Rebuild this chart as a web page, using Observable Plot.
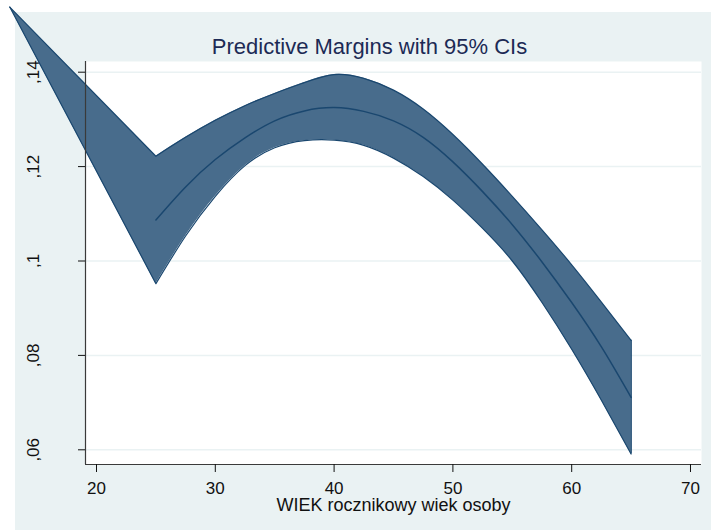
<!DOCTYPE html>
<html><head><meta charset="utf-8">
<script src="https://cdn.jsdelivr.net/npm/d3@7"></script>
<script src="https://cdn.jsdelivr.net/npm/@observablehq/plot@0.6"></script>
<style>
html,body{margin:0;padding:0;background:#fff;}
#wrap{position:relative;width:711px;height:530px;overflow:hidden;}
#bg{position:absolute;left:15px;top:12px;right:0;bottom:0;background:#eaf2f3;}
#chart{position:absolute;left:0;top:0;}
</style></head><body>
<div id="wrap"><div id="bg"></div><div id="chart"></div></div>
<script>
// Data
const ages    = [25, 27.5, 30, 32.5, 35, 37.5, 40, 42.5, 45, 47.5, 50, 52.5, 55, 57.5, 60, 62.5, 65];
const margin  = [0.1087,0.1157,0.1215,0.1261,0.1297,0.1318,0.1325,0.1317,0.1297,0.1262,0.1210,0.1147,0.1077,0.0998,0.0912,0.0818,0.0711];
const upperCI = [0.1222,0.1262,0.1298,0.1329,0.1355,0.1378,0.1395,0.1387,0.1362,0.1322,0.1268,0.1205,0.1137,0.1066,0.0992,0.0913,0.0832];
const lowerCI = [0.0952,0.1053,0.1137,0.1202,0.1240,0.1255,0.1256,0.1245,0.1218,0.1179,0.1129,0.1069,0.1000,0.0912,0.0813,0.0705,0.0591];
// straight extension of the band beyond the plot region (top-left tip)
const tipAge = 12.7;
const tipValue = 0.1538;

const xTicks = [20, 30, 40, 50, 60, 70];
const yTicks = [0.06, 0.08, 0.10, 0.12, 0.14];
const yTickLabels = [",06", ",08", ",1", ",12", ",14"];
const titleText = "Predictive Margins with 95% CIs";
const xLabel = "WIEK rocznikowy wiek osoby";
const xDomain = [19.074, 70.926];
const yDomain = [0.056886, 0.142267];

const rows = ages.map((a, i) => ({age: a, mid: margin[i], hi: upperCI[i], lo: lowerCI[i]}));
const bandRows = [{age: tipAge, hi: tipValue, lo: tipValue}, ...rows];

// curve: straight first segment (the extension), natural spline through the rest
function kinkNatural(context) {
  let line = NaN, pts = [];
  const wrap = {
    moveTo: (x, y) => context.lineTo(x, y),
    lineTo: (x, y) => context.lineTo(x, y),
    bezierCurveTo: (a, b, c, d, e, f) => context.bezierCurveTo(a, b, c, d, e, f),
    closePath: () => {}
  };
  function drawNatural(p) {
    const c = d3.curveNatural(wrap);
    c.lineStart();
    for (const [x, y] of p) c.point(x, y);
    c.lineEnd();
  }
  return {
    areaStart() { line = 0; },
    areaEnd() { line = NaN; },
    lineStart() { pts = []; },
    point(x, y) { pts.push([+x, +y]); },
    lineEnd() {
      const n = pts.length;
      if (n) {
        line ? context.lineTo(pts[0][0], pts[0][1]) : context.moveTo(pts[0][0], pts[0][1]);
        if (n > 1) {
          if (pts[0][0] <= pts[n - 1][0]) {
            context.lineTo(pts[1][0], pts[1][1]);
            drawNatural(pts.slice(1));
          } else {
            drawNatural(pts.slice(0, n - 1));
            context.lineTo(pts[n - 1][0], pts[n - 1][1]);
          }
        }
      }
      if (line) context.closePath();
      line = 1 - line;
    }
  };
}

const bandFill = "#486c8c";
const navy = "#1a476f";
const font = "'Liberation Sans', Arial, Helvetica, sans-serif";

const chart = Plot.plot({
  width: 711, height: 530,
  marginLeft: 85, marginRight: 10, marginTop: 61, marginBottom: 66,
  style: {background: "transparent", overflow: "visible", fontFamily: font, fontSize: "17px", color: "#111"},
  x: {domain: xDomain},
  y: {domain: yDomain},
  marks: [
    Plot.frame({fill: "white", stroke: null}),
    Plot.ruleY(yTicks, {stroke: "#eaf2f3", strokeWidth: 1.5}),
    Plot.areaY(bandRows, {x: "age", y1: "lo", y2: "hi", fill: bandFill, curve: kinkNatural}),
    Plot.line(bandRows, {x: "age", y: "hi", stroke: navy, strokeWidth: 1.2, curve: kinkNatural}),
    Plot.line(bandRows, {x: "age", y: "lo", stroke: navy, strokeWidth: 1.2, curve: kinkNatural}),
    Plot.ruleX(rows.slice(-1), {x: "age", y1: "lo", y2: "hi", stroke: navy, strokeWidth: 1.5}),
    Plot.line(rows, {x: "age", y: "mid", stroke: navy, strokeWidth: 1.5, curve: "natural"}),
    Plot.ruleX([xDomain[0]], {stroke: "#3a3a3a", strokeWidth: 1.2}),
    Plot.ruleY([yDomain[0]], {stroke: "#3a3a3a", strokeWidth: 1.2}),
    Plot.axisY(yTicks, {tickSize: 7, tickRotate: -90, tickPadding: 40, tickFormat: d => yTickLabels[yTicks.indexOf(d)], label: null}),
    Plot.axisX(xTicks, {tickSize: 8, tickPadding: 9, label: null}),
    Plot.text([titleText], {text: d => d, frameAnchor: "top", dx: -24, dy: -8, lineAnchor: "bottom", fontSize: 22, fill: "#1c2a55"}),
    Plot.text([xLabel], {text: d => d, frameAnchor: "bottom", dy: 46, lineAnchor: "bottom", fontSize: 18, fill: "#111"})
  ]
});
document.getElementById("chart").appendChild(chart);
</script>
</body></html>
